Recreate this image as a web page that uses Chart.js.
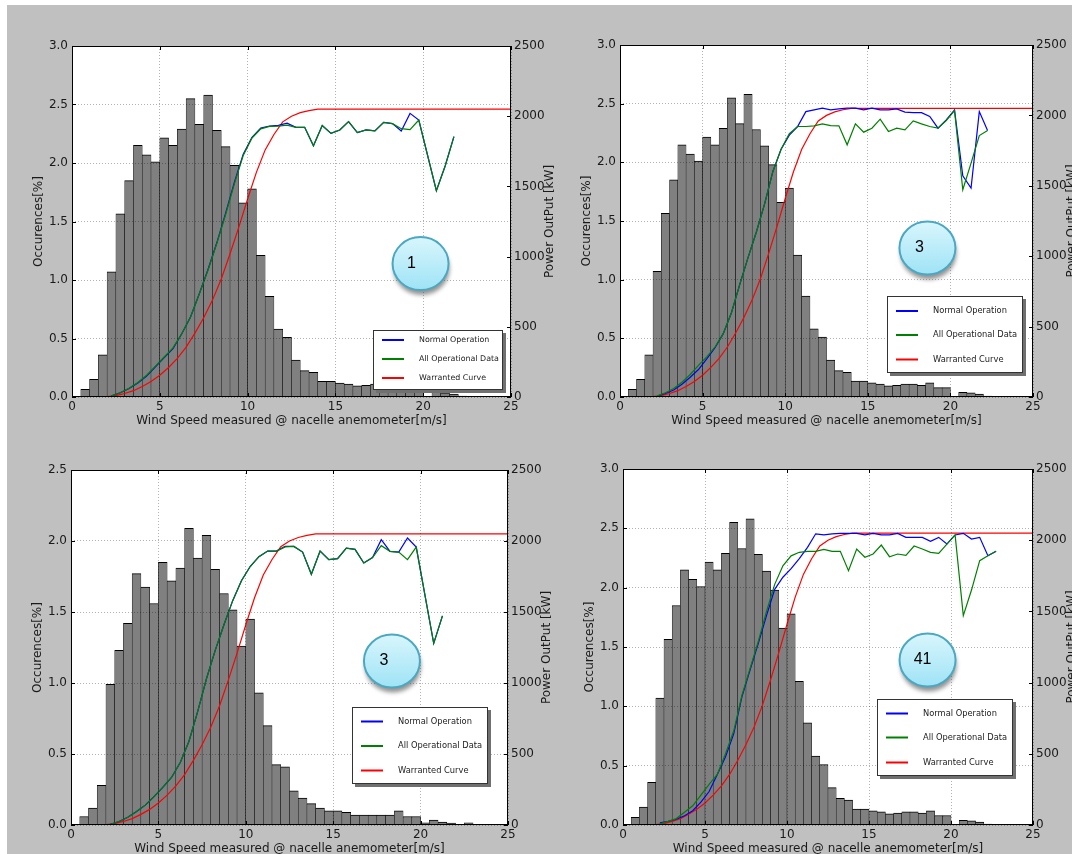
<!DOCTYPE html>
<html>
<head>
<meta charset="utf-8">
<title>Wind speed distribution and power curves</title>
<script src="https://cdn.jsdelivr.net/npm/chart.js@4.4.1/dist/chart.umd.min.js"></script>
<style>
html, body { margin: 0; padding: 0; }
body { width: 1072px; height: 854px; overflow: hidden; position: relative; background: #c0c0c0; }
#edgeTop { position: absolute; left: 0; top: 0; width: 1072px; height: 5px; background: #fff; }
#edgeLeft { position: absolute; left: 0; top: 0; width: 7px; height: 854px; background: #fff; }
canvas { position: absolute; }
</style>
</head>
<body>
<div id="edgeTop"></div>
<div id="edgeLeft"></div>
<canvas id="panel1"></canvas>
<canvas id="panel2"></canvas>
<canvas id="panel3"></canvas>
<canvas id="panel4"></canvas>
<script>
// histogram bins are 0.5 m/s wide, values at the bin centres
var binCenters = [0.75, 1.25, 1.75, 2.25, 2.75, 3.25, 3.75, 4.25, 4.75, 5.25, 5.75, 6.25, 6.75, 7.25, 7.75,
	8.25, 8.75, 9.25, 9.75, 10.25, 10.75, 11.25, 11.75, 12.25, 12.75, 13.25, 13.75, 14.25, 14.75, 15.25,
	15.75, 16.25, 16.75, 17.25, 17.75, 18.25, 18.75, 19.25, 19.75, 20.25, 20.75, 21.25, 21.75, 22.25, 22.75];

// occurrences [%] - panels 1, 2 and 4 share the same histogram
var occurrencesA = [0.065, 0.15, 0.36, 1.07, 1.565, 1.85, 2.15, 2.07, 2.01, 2.215, 2.15, 2.29, 2.55, 2.33, 2.58,
	2.28, 2.14, 1.98, 1.66, 1.78, 1.21, 0.86, 0.58, 0.51, 0.315, 0.225, 0.21, 0.135, 0.135, 0.12,
	0.11, 0.095, 0.10, 0.11, 0.11, 0.10, 0.12, 0.08, 0.08, 0.005, 0.04, 0.035, 0.025, 0.008, 0.006];
var occurrencesB = [0.06, 0.12, 0.28, 0.99, 1.23, 1.42, 1.77, 1.675, 1.56, 1.85, 1.72, 1.81, 2.09, 1.88, 2.04,
	1.80, 1.63, 1.515, 1.26, 1.45, 0.93, 0.70, 0.425, 0.41, 0.24, 0.19, 0.15, 0.12, 0.10, 0.10,
	0.09, 0.07, 0.07, 0.07, 0.07, 0.07, 0.10, 0.06, 0.06, 0.015, 0.035, 0.02, 0.014, 0.003, 0.015];

// power output [kW] per bin (null = no data in that bin)
var normal1 = [null, null, null, 8, 30, 60, 100, 150, 215, 280, 345, 450, 570, 735, 910,
	1100, 1310, 1530, 1730, 1850, 1915, 1930, 1935, 1950, 1921, 1921, 1790, 1933, 1878, 1902,
	1961, 1883, 1902, 1895, 1956, 1947, 1895, 2020, 1973, null, 1469, 1645, 1854, null, null];
var all1 = [null, null, null, 8, 30, 62, 103, 155, 220, 285, 350, 450, 570, 735, 905,
	1095, 1300, 1520, 1720, 1845, 1910, 1928, 1930, 1936, 1921, 1921, 1790, 1933, 1878, 1902,
	1961, 1883, 1902, 1895, 1956, 1947, 1911, 1905, 1973, null, 1469, 1645, 1854, null, null];

var normal2 = [null, null, null, 5, 25, 50, 90, 140, 195, 270, 350, 450, 600, 800, 990,
	1170, 1370, 1600, 1760, 1860, 1921, 2027, 2039, 2051, 2039, 2046, 2051, 2051, 2039, 2051,
	2039, 2039, 2046, 2023, 2020, 2020, 1992, 1909, 1968, 2039, 1571, 1484, 2027, 1893, null];
var all2 = [null, null, null, 8, 30, 60, 105, 160, 225, 285, 355, 450, 600, 800, 990,
	1170, 1370, 1600, 1760, 1870, 1921, 1921, 1926, 1940, 1928, 1926, 1791, 1940, 1881, 1909,
	1973, 1886, 1909, 1897, 1961, 1940, 1921, 1909, 1964, 2034, 1472, 1661, 1857, 1893, null];

var normal3 = [null, null, null, 5, 25, 55, 95, 140, 200, 265, 335, 440, 590, 800, 1030,
	1230, 1410, 1580, 1720, 1820, 1890, 1929, 1929, 1962, 1962, 1922, 1766, 1929, 1869, 1876,
	1950, 1941, 1845, 1883, 2009, 1927, 1922, 2021, 1957, null, 1279, 1473, null, null, null];
var all3 = [null, null, null, 5, 25, 55, 95, 140, 200, 265, 335, 440, 590, 800, 1030,
	1230, 1410, 1580, 1720, 1820, 1890, 1929, 1929, 1958, 1962, 1922, 1766, 1929, 1869, 1876,
	1950, 1941, 1845, 1883, 1967, 1927, 1922, 1869, 1957, null, 1279, 1473, null, null, null];

var normal4 = [null, null, null, 15, 25, 40, 65, 100, 160, 235, 355, 480, 640, 900, 1090,
	1275, 1470, 1655, 1740, 1800, 1870, 1950, 2045, 2037, 2044, 2048, 2048, 2048, 2037, 2048,
	2037, 2037, 2048, 2020, 2020, 2020, 1992, 2020, 1973, 2037, 2048, 2008, 2020, 1891, 1922];
var all4 = [null, null, null, 8, 25, 45, 90, 135, 210, 285, 355, 500, 660, 910, 1100,
	1290, 1500, 1690, 1820, 1890, 1915, 1922, 1922, 1936, 1922, 1922, 1786, 1938, 1880, 1903,
	1966, 1884, 1903, 1894, 1959, 1938, 1915, 1908, 1973, 2037, 1470, 1650, 1856, 1891, 1922];

// warranted power curve, every 0.5 m/s
var warrantedSpeeds = [1.0, 1.5, 2.0, 2.5, 3.0, 3.5, 4.0, 4.5, 5.0, 5.5, 6.0, 6.5, 7.0, 7.5, 8.0, 8.5, 9.0,
	9.5, 10.0, 10.5, 11.0, 11.5, 12.0, 12.5, 13.0, 13.5, 14.0, 14.5, 15.0, 15.5, 16.0, 16.5, 17.0,
	17.5, 18.0, 18.5, 19.0, 19.5, 20.0, 20.5, 21.0, 21.5, 22.0, 22.5, 23.0, 23.5, 24.0, 24.5, 25.0];
var warrantedPower = [0, 0, 3, 10, 25, 45, 75, 110, 155, 210, 275, 355, 455, 565, 690, 840, 1020,
	1210, 1410, 1600, 1760, 1870, 1960, 2000, 2025, 2040, 2050, 2050, 2050, 2050, 2050, 2050, 2050,
	2050, 2050, 2050, 2050, 2050, 2050, 2050, 2050, 2050, 2050, 2050, 2050, 2050, 2050, 2050, 2050];

var speedTicks = [0, 5, 10, 15, 20, 25];
var occTicks30 = [0, 0.5, 1.0, 1.5, 2.0, 2.5, 3.0];
var occTicks25 = [0, 0.5, 1.0, 1.5, 2.0, 2.5];
var powerTicks = [0, 500, 1000, 1500, 2000, 2500];

var seriesNames = ["Normal Operation", "All Operational Data", "Warranted Curve"];
var seriesColors = ["#0000ff", "#008000", "#ff0000"];

var LEFT_W = 72, RIGHT_W = 70, TOP_PAD = 20, BOTTOM_H = 40;

// plot boxes on the page [left, top, right, bottom], legend offsets from the plot's bottom-right
var panels = [
	{ id: "panel1", box: [72, 46, 511, 397], occ: occurrencesA, occTicks: occTicks30, normal: normal1, all: all1,
	  tag: "1", tagAt: [19.85, 1.14], tagDx: -9,
	  legend: { dx: -138, dy: -67, w: 130, h: 60, rows: [10, 29, 48], font: 7.9 } },
	{ id: "panel2", box: [620, 45, 1033, 397], occ: occurrencesA, occTicks: occTicks30, normal: normal2, all: all2,
	  tag: "3", tagAt: [18.61, 1.27], tagDx: -8,
	  legend: { dx: -146, dy: -101, w: 136, h: 77, rows: [15, 39, 63.5], font: 8.3 } },
	{ id: "panel3", box: [71, 470, 508, 825], occ: occurrencesB, occTicks: occTicks25, normal: normal3, all: all3,
	  tag: "3", tagAt: [18.36, 1.155], tagDx: -8,
	  legend: { dx: -156, dy: -118, w: 136, h: 77, rows: [14.5, 39, 63.5], font: 8.3 } },
	{ id: "panel4", box: [623, 469, 1033, 825], occ: occurrencesA, occTicks: occTicks30, normal: normal4, all: all4,
	  tag: "41", tagAt: [18.57, 1.39], tagDx: -5,
	  legend: { dx: -156, dy: -126, w: 136, h: 77, rows: [14.5, 38.5, 63.5], font: 8.3 } }
];

Chart.defaults.font.family = '"DejaVu Sans", sans-serif';
Chart.defaults.font.size = 12;
Chart.defaults.color = "#1a1a1a";

function toPoints(xs, ys) {
	var pts = [];
	for (var i = 0; i < xs.length; i++) {
		if (ys[i] !== null) {
			pts.push({x: xs[i], y: ys[i]});
		}
	}
	return pts;
}

function fixedTicks(list) {
	return function(scale) {
		scale.ticks = list.map(function(v) { return {value: v}; });
	};
}

function drawTag(ctx, cx, cy, text, dx) {
	ctx.save();
	ctx.shadowColor = "rgba(60,60,60,0.55)";
	ctx.shadowBlur = 4;
	ctx.shadowOffsetY = 5;
	ctx.shadowOffsetX = 1;
	var g = ctx.createLinearGradient(0, cy - 27, 0, cy + 27);
	g.addColorStop(0, "#d9f6fc");
	g.addColorStop(1, "#9ee3f6");
	ctx.beginPath();
	ctx.ellipse(cx, cy, 28, 26.5, 0, 0, Math.PI * 2);
	ctx.fillStyle = g;
	ctx.fill();
	ctx.shadowColor = "transparent";
	ctx.lineWidth = 2;
	ctx.strokeStyle = "#4aa8c2";
	ctx.stroke();
	ctx.fillStyle = "#000";
	ctx.font = '16px "Liberation Sans", sans-serif';
	ctx.textAlign = "center";
	ctx.textBaseline = "middle";
	ctx.fillText(text, cx + dx, cy);
	ctx.restore();
}

function drawLegend(ctx, area, lg) {
	var x = Math.round(area.right + lg.dx), y = Math.round(area.bottom + lg.dy);
	ctx.save();
	ctx.fillStyle = "#707070";
	ctx.fillRect(x + 3, y + 3, lg.w, lg.h);
	ctx.fillStyle = "#fff";
	ctx.fillRect(x, y, lg.w, lg.h);
	ctx.strokeStyle = "#333";
	ctx.lineWidth = 1;
	ctx.strokeRect(x + 0.5, y + 0.5, lg.w - 1, lg.h - 1);
	ctx.font = lg.font + 'px "DejaVu Sans", sans-serif';
	ctx.textBaseline = "middle";
	for (var k = 0; k < seriesNames.length; k++) {
		var ry = y + lg.rows[k];
		ctx.strokeStyle = seriesColors[k];
		ctx.lineWidth = 2;
		ctx.beginPath();
		ctx.moveTo(x + 9, ry);
		ctx.lineTo(x + 31, ry);
		ctx.stroke();
		ctx.fillStyle = "#222";
		ctx.fillText(seriesNames[k], x + 46, ry);
	}
	ctx.restore();
}

function makeDecor(p) {
	return {
		id: "decor_" + p.id,
		beforeDraw: function(chart) {
			var a = chart.chartArea, ctx = chart.ctx;
			ctx.save();
			ctx.fillStyle = "#fff";
			ctx.fillRect(a.left, a.top, a.right - a.left, a.bottom - a.top);
			ctx.restore();
		},
		afterDraw: function(chart) {
			var a = chart.chartArea, ctx = chart.ctx;
			var sx = chart.scales.x, sy = chart.scales.y, sy2 = chart.scales.y2;
			ctx.save();
			// inward tick marks like matplotlib
			ctx.strokeStyle = "#000";
			ctx.lineWidth = 1;
			ctx.beginPath();
			speedTicks.forEach(function(v) {
				var px = Math.round(sx.getPixelForValue(v)) + 0.5;
				ctx.moveTo(px, a.bottom); ctx.lineTo(px, a.bottom - 4);
				ctx.moveTo(px, a.top); ctx.lineTo(px, a.top + 4);
			});
			p.occTicks.forEach(function(v) {
				var py = Math.round(sy.getPixelForValue(v)) + 0.5;
				ctx.moveTo(a.left, py); ctx.lineTo(a.left + 4, py);
			});
			powerTicks.forEach(function(v) {
				var py = Math.round(sy2.getPixelForValue(v)) + 0.5;
				ctx.moveTo(a.right, py); ctx.lineTo(a.right - 4, py);
			});
			ctx.stroke();
			// frame
			ctx.strokeRect(a.left + 0.5, a.top + 0.5, a.right - a.left - 1, a.bottom - a.top - 1);
			// right axis title, read bottom to top
			ctx.translate(a.right + 39, (a.top + a.bottom) / 2);
			ctx.rotate(-Math.PI / 2);
			ctx.fillStyle = "#1a1a1a";
			ctx.font = '12px "DejaVu Sans", sans-serif';
			ctx.textAlign = "center";
			ctx.textBaseline = "middle";
			ctx.fillText("Power OutPut [kW]", 0, 0);
			ctx.restore();

			drawLegend(ctx, a, p.legend);
			drawTag(ctx, sx.getPixelForValue(p.tagAt[0]), sy.getPixelForValue(p.tagAt[1]), p.tag, p.tagDx);
		}
	};
}

function buildPanel(p) {
	var cv = document.getElementById(p.id);
	var w = p.box[2] - p.box[0] + LEFT_W + RIGHT_W;
	var h = p.box[3] - p.box[1] + TOP_PAD + BOTTOM_H;
	cv.width = w;
	cv.height = h;
	cv.style.left = (p.box[0] - LEFT_W) + "px";
	cv.style.top = (p.box[1] - TOP_PAD) + "px";
	cv.style.width = w + "px";
	cv.style.height = h + "px";
	var occMax = p.occTicks[p.occTicks.length - 1];
	var gridColor = "rgba(0,0,0,0.3)";

	return new Chart(cv, {
		type: "bar",
		data: {
			datasets: [
				{ type: "bar", label: "Occurences", data: toPoints(binCenters, p.occ), yAxisID: "y",
				  backgroundColor: "#808080", borderColor: "#000",
				  borderWidth: {top: 1, left: 0.5, right: 0.5, bottom: 0},
				  barPercentage: 1, categoryPercentage: 1, order: 4 },
				{ type: "line", label: seriesNames[0], data: toPoints(binCenters, p.normal), yAxisID: "y2",
				  borderColor: seriesColors[0], borderWidth: 1.2, pointRadius: 0, tension: 0, spanGaps: true, order: 2 },
				{ type: "line", label: seriesNames[1], data: toPoints(binCenters, p.all), yAxisID: "y2",
				  borderColor: seriesColors[1], borderWidth: 1.2, pointRadius: 0, tension: 0, spanGaps: true, order: 1 },
				{ type: "line", label: seriesNames[2], data: toPoints(warrantedSpeeds, warrantedPower), yAxisID: "y2",
				  borderColor: seriesColors[2], borderWidth: 1.2, pointRadius: 0, tension: 0, order: 3 }
			]
		},
		options: {
			responsive: false,
			animation: false,
			devicePixelRatio: 1,
			layout: { padding: {top: TOP_PAD, left: 0, right: 0, bottom: 0} },
			plugins: { legend: {display: false}, tooltip: {enabled: false} },
			scales: {
				x: {
					type: "linear", min: 0, max: 25, offset: false,
					afterBuildTicks: fixedTicks(speedTicks),
					afterFit: function(s) { s.height = BOTTOM_H; },
					ticks: { padding: 3, maxRotation: 0, autoSkip: false, callback: function(v) { return String(v); } },
					grid: { offset: false, drawTicks: false, color: gridColor, lineWidth: 1, z: 1 },
					border: { display: false, dash: [1, 2] },
					title: { display: true, text: "Wind Speed measured @ nacelle anemometer[m/s]", padding: {top: 0, bottom: 9} }
				},
				y: {
					type: "linear", position: "left", min: 0, max: occMax,
					afterBuildTicks: fixedTicks(p.occTicks),
					afterFit: function(s) { s.width = LEFT_W; },
					ticks: { padding: 4, autoSkip: false, callback: function(v) { return v.toFixed(1); } },
					grid: { drawTicks: false, color: gridColor, lineWidth: 1, z: 1 },
					border: { display: false, dash: [1, 2] },
					title: { display: true, text: "Occurences[%]", padding: {top: 32, bottom: 0} }
				},
				y2: {
					type: "linear", position: "right", min: 0, max: 2500,
					afterBuildTicks: fixedTicks(powerTicks),
					afterFit: function(s) { s.width = RIGHT_W; },
					ticks: { padding: 3, autoSkip: false, callback: function(v) { return String(v); } },
					grid: { display: false, drawTicks: false },
					border: { display: false }
				}
			}
		},
		plugins: [makeDecor(p)]
	});
}

panels.forEach(buildPanel);
</script>
</body>
</html>
